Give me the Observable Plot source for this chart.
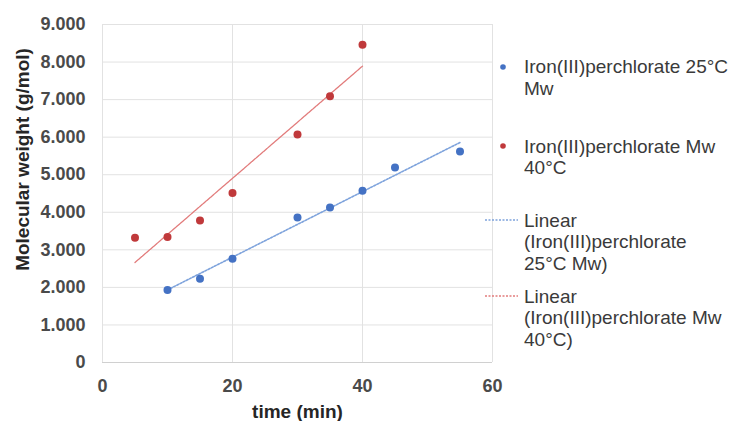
<!DOCTYPE html>
<html>
<head>
<meta charset="utf-8">
<script src="https://cdn.jsdelivr.net/npm/d3@7"></script>
<script src="https://cdn.jsdelivr.net/npm/@observablehq/plot@0.6"></script>
<style>
  html, body { margin: 0; padding: 0; background: #fff; }
  #wrap { position: relative; width: 736px; height: 421px; font-family: "Liberation Sans", Arial, sans-serif; }
  #legend { position: absolute; left: 0; top: 0; width: 736px; height: 421px; pointer-events: none; }
  .lg { position: absolute; font-size: 19px; line-height: 21.5px; color: #3a3a3a; white-space: nowrap; }
</style>
</head>
<body>
<div id="wrap">
  <div id="chart"></div>
  <div id="legend"></div>
</div>
<script>
// Data
const seriesNames = ["Iron(III)perchlorate 25°C Mw", "Iron(III)perchlorate Mw 40°C"];
const time25 = [10, 15, 20, 30, 35, 40, 45, 55];
const mw25   = [1930, 2230, 2760, 3860, 4130, 4570, 5190, 5620];
const time40 = [5, 10, 15, 20, 30, 35, 40];
const mw40   = [3320, 3340, 3780, 4510, 6070, 7090, 8460];
const xTicks = [0, 20, 40, 60];
const yTicks = [0, 1000, 2000, 3000, 4000, 5000, 6000, 7000, 8000, 9000];
const xLabel = "time (min)";
const yLabel = "Molecular weight (g/mol)";

const colors = { dot25: "#4472c4", dot40: "#c0393b", trend25: "#7ea3dc", trend40: "#e27c7c" };

const d25 = time25.map((t, i) => ({ t, mw: mw25[i] }));
const d40 = time40.map((t, i) => ({ t, mw: mw40[i] }));

const fmt = d => d3.format(",")(d).replace(/,/g, ".");

const chart = Plot.plot({
  width: 736,
  height: 421,
  marginLeft: 102,
  marginRight: 244,
  marginTop: 24,
  marginBottom: 59,
  style: { fontFamily: "Liberation Sans, Arial, sans-serif", fontSize: "18px", color: "#444" },
  x: { domain: [0, 60], ticks: xTicks, label: null },
  y: { domain: [0, 9000], ticks: yTicks, label: null },
  marks: [
    Plot.gridY(yTicks, { stroke: "#e2e2e2", strokeOpacity: 1 }),
    Plot.gridX(xTicks, { stroke: "#e2e2e2", strokeOpacity: 1 }),
    Plot.ruleY([0], { stroke: "#d0d0d0" }),
    Plot.axisX({ ticks: xTicks, tickSize: 0, tickPadding: 17, tickFormat: d => d, fill: "#4a4a4a", fontSize: 18, fontWeight: "bold", label: null }),
    Plot.axisY({ ticks: yTicks, tickSize: 0, tickPadding: 17, tickFormat: fmt, fill: "#4a4a4a", fontSize: 18, fontWeight: "bold", label: null }),
    Plot.linearRegressionY(d40, { x: "t", y: "mw", stroke: colors.trend40, strokeWidth: 1.3, strokeDasharray: "4,1", ci: 0 }),
    Plot.linearRegressionY(d25, { x: "t", y: "mw", stroke: colors.trend25, strokeWidth: 1.6, strokeDasharray: "2,1.5", ci: 0 }),
    Plot.dot(d25, { x: "t", y: "mw", r: 4, fill: colors.dot25, stroke: null }),
    Plot.dot(d40, { x: "t", y: "mw", r: 4, fill: colors.dot40, stroke: null }),
    Plot.text([xLabel], { frameAnchor: "bottom", dy: 49, lineAnchor: "middle", fontWeight: "bold", fontSize: 19, fill: "#262626" }),
    Plot.text([yLabel], { frameAnchor: "left", textAnchor: "middle", lineAnchor: "middle", dx: -80, dy: -34, rotate: -90, fontWeight: "bold", fontSize: 19, fill: "#262626" })
  ]
});
document.getElementById("chart").appendChild(chart);

// Legend
const legend = document.getElementById("legend");
const items = [
  { type: "dot", color: colors.dot25, lines: ["Iron(III)perchlorate 25°C", "Mw"], cy: 66.5 },
  { type: "dot", color: colors.dot40, lines: ["Iron(III)perchlorate Mw", "40°C"], cy: 146 },
  { type: "line", color: colors.trend25, lines: ["Linear", "(Iron(III)perchlorate", "25°C Mw)"], cy: 220 },
  { type: "line", color: colors.trend40, lines: ["Linear", "(Iron(III)perchlorate Mw", "40°C)"], cy: 296 }
];
for (const it of items) {
  const m = document.createElementNS("http://www.w3.org/2000/svg", "svg");
  m.setAttribute("width", 40); m.setAttribute("height", 20);
  m.style.position = "absolute"; m.style.left = "482px"; m.style.top = (it.cy - 10) + "px";
  if (it.type === "dot") {
    m.innerHTML = `<circle cx="21" cy="10" r="2.8" fill="${it.color}"/>`;
  } else {
    m.innerHTML = `<line x1="3" x2="36" y1="10" y2="10" stroke="${it.color}" stroke-width="1.5" stroke-dasharray="2,1.5"/>`;
  }
  legend.appendChild(m);
  const t = document.createElement("div");
  t.className = "lg";
  t.style.left = "524px"; t.style.top = (it.cy - 10.4) + "px";
  t.innerHTML = it.lines.join("<br>");
  legend.appendChild(t);
}
</script>
</body>
</html>
